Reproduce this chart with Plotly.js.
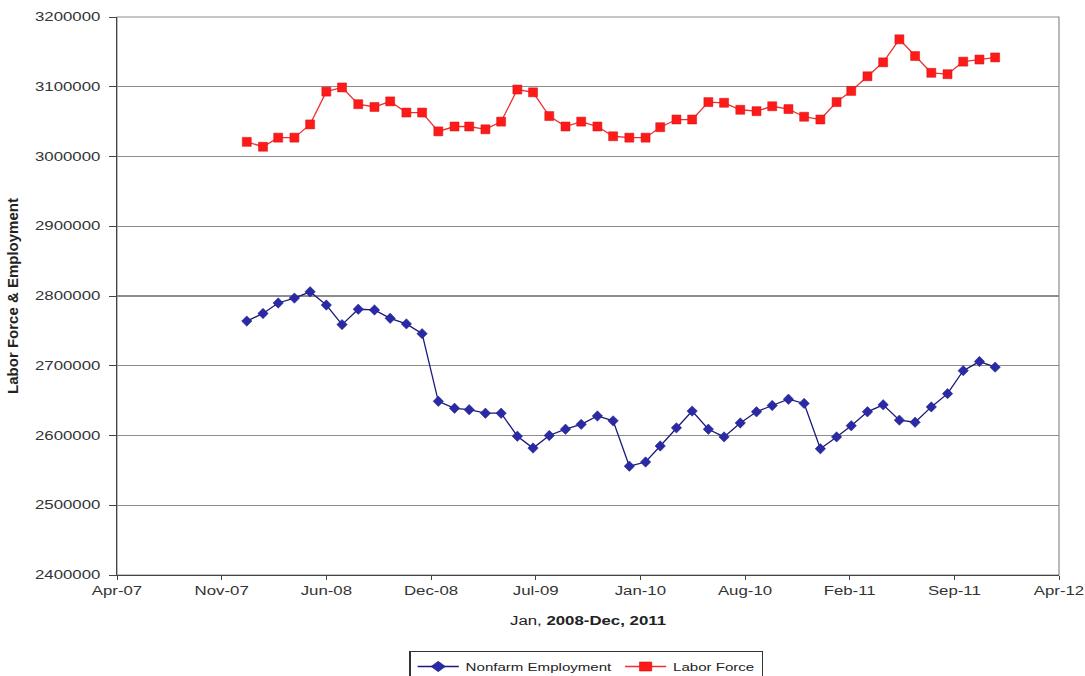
<!DOCTYPE html>
<html>
<head>
<meta charset="utf-8">
<script src="https://cdn.plot.ly/plotly-3.0.1.min.js"></script>
<style>
html,body{margin:0;padding:0;background:#fff;}
#chart{width:1085px;height:676px;}
</style>
</head>
<body>
<div id="chart"></div>
<script>
const months = [
  "2008-01-01","2008-02-01","2008-03-01","2008-04-01","2008-05-01","2008-06-01",
  "2008-07-01","2008-08-01","2008-09-01","2008-10-01","2008-11-01","2008-12-01",
  "2009-01-01","2009-02-01","2009-03-01","2009-04-01","2009-05-01","2009-06-01",
  "2009-07-01","2009-08-01","2009-09-01","2009-10-01","2009-11-01","2009-12-01",
  "2010-01-01","2010-02-01","2010-03-01","2010-04-01","2010-05-01","2010-06-01",
  "2010-07-01","2010-08-01","2010-09-01","2010-10-01","2010-11-01","2010-12-01",
  "2011-01-01","2011-02-01","2011-03-01","2011-04-01","2011-05-01","2011-06-01",
  "2011-07-01","2011-08-01","2011-09-01","2011-10-01","2011-11-01","2011-12-01"
];

const nonfarmEmployment = [
  2764000, 2775000, 2790000, 2797000, 2806000, 2787000,
  2759000, 2781000, 2780000, 2768000, 2760000, 2746000,
  2649000, 2639000, 2637000, 2632000, 2632000, 2599000,
  2582000, 2600000, 2609000, 2616000, 2628000, 2621000,
  2556000, 2562000, 2585000, 2611000, 2635000, 2609000,
  2598000, 2618000, 2634000, 2643000, 2652000, 2646000,
  2581000, 2598000, 2614000, 2634000, 2644000, 2622000,
  2619000, 2641000, 2660000, 2693000, 2706000, 2698000
];

const laborForce = [
  3021000, 3014000, 3027000, 3027000, 3046000, 3093000,
  3099000, 3075000, 3071000, 3079000, 3063000, 3063000,
  3036000, 3043000, 3043000, 3039000, 3050000, 3096000,
  3092000, 3058000, 3043000, 3050000, 3043000, 3029000,
  3027000, 3027000, 3042000, 3053000, 3053000, 3078000,
  3077000, 3067000, 3065000, 3072000, 3068000, 3057000,
  3053000, 3078000, 3094000, 3115000, 3135000, 3168000,
  3144000, 3120000, 3118000, 3136000, 3139000, 3142000
];

const seriesNames = ["Nonfarm Employment", "Labor Force"];
const xTitle = "Jan, <b>2008-Dec, 2011</b>";
const yTitle = "<b>Labor Force &amp; Employment</b>";

const traces = [
  {
    x: months, y: nonfarmEmployment, name: seriesNames[0],
    type: "scatter", mode: "lines+markers",
    line: {color: "#1a1a7a", width: 1.3},
    marker: {symbol: "diamond", size: 8, color: "#2a2aa8", line: {color: "#1a1a7a", width: 0.5}}
  },
  {
    x: months, y: laborForce, name: seriesNames[1],
    type: "scatter", mode: "lines+markers",
    line: {color: "#f03030", width: 1.3},
    marker: {symbol: "square", size: 9, color: "#ff1a1a", line: {color: "#d01010", width: 0.5}}
  }
];

const fontFam = "Liberation Sans, Arial, sans-serif";

const layout = {
  width: 1085, height: 676,
  margin: {l: 117, r: 26, t: 17, b: 101, autoexpand: false},
  paper_bgcolor: "#ffffff",
  plot_bgcolor: "#ffffff",
  font: {family: fontFam, size: 12, color: "#222"},
  showlegend: true,
  legend: {
    orientation: "h", x: 0.5, xanchor: "center", y: -0.1398, yanchor: "top",
    bordercolor: "#333", borderwidth: 1, bgcolor: "#fff",
    font: {family: fontFam, size: 11, color: "#222"},
    tracegroupgap: 0
  },
  xaxis: {
    type: "date",
    range: ["2007-04-28", "2012-04-01"],
    tick0: "2007-04-28",
    dtick: 200 * 86400000,
    tickformat: "%b-%y",
    ticks: "outside", ticklen: 4, tickcolor: "#444", tickwidth: 1,
    showline: true, linecolor: "#444", linewidth: 1.2,
    showgrid: false, zeroline: false,
    tickfont: {family: fontFam, size: 12, color: "#333"},
    title: {text: xTitle, standoff: 20, font: {family: fontFam, size: 12, color: "#222"}}
  },
  yaxis: {
    range: [2400000, 3200000],
    dtick: 100000,
    tickformat: "d",
    ticks: "outside", ticklen: 7, tickcolor: "#444", tickwidth: 1,
    ticklabelstandoff: 6,
    showline: true, linecolor: "#444", linewidth: 1.2,
    showgrid: true, gridcolor: "#8c8c8c", gridwidth: 1.2,
    zeroline: false,
    tickfont: {family: fontFam, size: 12, color: "#333"},
    title: {text: yTitle, standoff: 31, font: {family: fontFam, size: 15, color: "#222"}}
  },
  shapes: [
    {type: "rect", xref: "paper", yref: "paper", x0: 0, x1: 1, y0: 0, y1: 1,
     line: {color: "#8c8c8c", width: 1.2}, layer: "below"}
  ]
};

const STRETCH = 1.4;
const LEGEND_STRETCH = 1.37;

Plotly.newPlot("chart", traces, layout, {displayModeBar: false, staticPlot: true}).then(function (gd) {
  // widen texts horizontally, as in the (horizontally stretched) reference
  gd.querySelectorAll(".xtick text, .ytick text, .g-xtitle text").forEach(function (t) {
    const w = t.getComputedTextLength();
    t.setAttribute("textLength", (w * STRETCH).toFixed(1));
    t.setAttribute("lengthAdjust", "spacingAndGlyphs");
  });
  // widen the legend box around its centre
  const lg = gd.querySelector("g.legend");
  if (lg) {
    const bg = lg.querySelector("rect.bg");
    const w = bg ? parseFloat(bg.getAttribute("width")) : lg.getBBox().width;
    const tr = lg.getAttribute("transform") || "";
    const m = tr.match(/translate\(\s*([-\d.]+)[ ,]+([-\d.]+)\s*\)/);
    if (m) {
      const x0 = parseFloat(m[1]), y0 = parseFloat(m[2]) - 2;
      const cx = 585.5;
      const nx = cx - (w * LEGEND_STRETCH) / 2;
      lg.setAttribute("transform", "translate(" + nx + "," + y0 + ") scale(" + LEGEND_STRETCH + ",1)");
    }
  }
});
</script>
</body>
</html>
